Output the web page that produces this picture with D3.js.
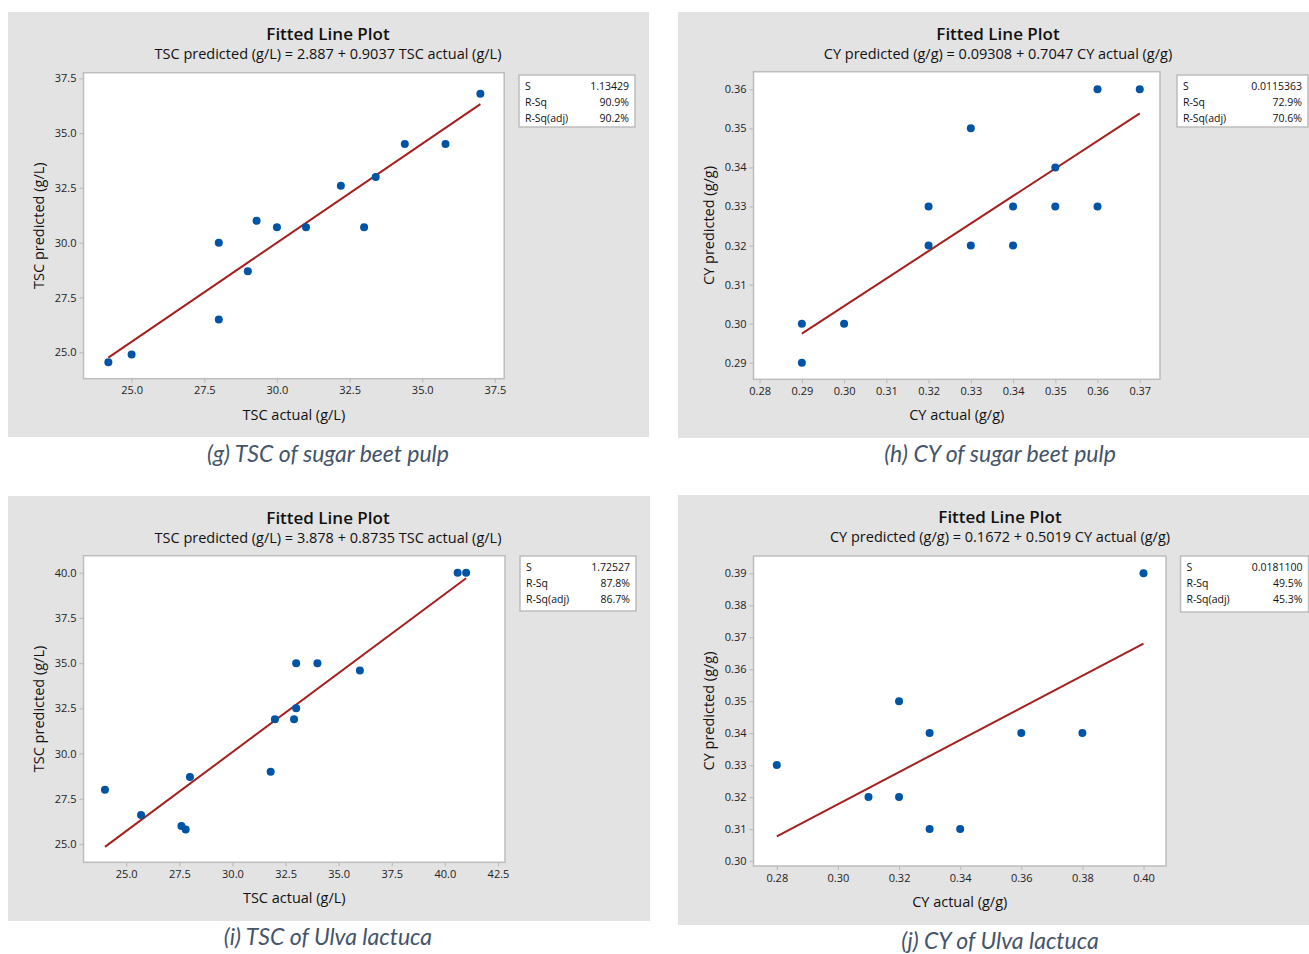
<!DOCTYPE html>
<html>
<head>
<meta charset="utf-8">
<script src="https://cdn.jsdelivr.net/npm/d3@7/dist/d3.min.js"></script>
<style>
  html, body { margin: 0; padding: 0; background: #ffffff; }
  svg { display: block; }
  text { font-family: "Open Sans", "Noto Sans", sans-serif; }
</style>
</head>
<body>
<svg id="chart" width="1309" height="954"></svg>
<script>
// ---------------- DATA ----------------
// (g) TSC of sugar beet pulp
const tscBeetActual = [24.2, 25.0, 28.0, 28.0, 29.0, 29.3, 30.0, 31.0, 32.2, 33.0, 33.4, 34.4, 35.8, 37.0];
const tscBeetPred   = [24.55, 24.9, 30.0, 26.5, 28.7, 31.0, 30.7, 30.7, 32.6, 30.7, 33.0, 34.5, 34.5, 36.8];
// (h) CY of sugar beet pulp
const cyBeetActual = [0.29, 0.29, 0.30, 0.32, 0.32, 0.33, 0.33, 0.34, 0.34, 0.35, 0.35, 0.36, 0.36, 0.37];
const cyBeetPred   = [0.30, 0.29, 0.30, 0.33, 0.32, 0.35, 0.32, 0.33, 0.32, 0.34, 0.33, 0.36, 0.33, 0.36];
// (i) TSC of Ulva lactuca
const tscUlvaActual = [24.0, 25.7, 27.6, 27.8, 28.0, 31.8, 32.0, 32.9, 33.0, 33.0, 34.0, 36.0, 40.6, 41.0];
const tscUlvaPred   = [28.0, 26.6, 26.0, 25.8, 28.7, 29.0, 31.9, 31.9, 32.5, 35.0, 35.0, 34.6, 40.0, 40.0];
// (j) CY of Ulva lactuca
const cyUlvaActual = [0.28, 0.31, 0.32, 0.32, 0.33, 0.33, 0.34, 0.36, 0.38, 0.40];
const cyUlvaPred   = [0.33, 0.32, 0.35, 0.32, 0.34, 0.31, 0.31, 0.34, 0.34, 0.39];

// Fitted line coefficients
const fitIntercepts = [2.887, 0.09308, 3.878, 0.1672];
const fitSlopes     = [0.9037, 0.7047, 0.8735, 0.5019];

// Summary statistics
const statLabels = ["S", "R-Sq", "R-Sq(adj)"];
const statS      = ["1.13429", "0.0115363", "1.72527", "0.0181100"];
const statRSq    = ["90.9%", "72.9%", "87.8%", "49.5%"];
const statRSqAdj = ["90.2%", "70.6%", "86.7%", "45.3%"];

// Tick values
const xTicksG = [25.0, 27.5, 30.0, 32.5, 35.0, 37.5];
const yTicksG = [25.0, 27.5, 30.0, 32.5, 35.0, 37.5];
const xTicksH = [0.28, 0.29, 0.30, 0.31, 0.32, 0.33, 0.34, 0.35, 0.36, 0.37];
const yTicksH = [0.29, 0.30, 0.31, 0.32, 0.33, 0.34, 0.35, 0.36];
const xTicksI = [25.0, 27.5, 30.0, 32.5, 35.0, 37.5, 40.0, 42.5];
const yTicksI = [25.0, 27.5, 30.0, 32.5, 35.0, 37.5, 40.0];
const xTicksJ = [0.28, 0.30, 0.32, 0.34, 0.36, 0.38, 0.40];
const yTicksJ = [0.30, 0.31, 0.32, 0.33, 0.34, 0.35, 0.36, 0.37, 0.38, 0.39];

// Texts
const plotTitle = "Fitted Line Plot";
const subtitles = [
  "TSC predicted (g/L) = 2.887 + 0.9037 TSC actual (g/L)",
  "CY predicted (g/g) = 0.09308 + 0.7047 CY actual (g/g)",
  "TSC predicted (g/L) = 3.878 + 0.8735 TSC actual (g/L)",
  "CY predicted (g/g) = 0.1672 + 0.5019 CY actual (g/g)"
];
const xLabels = ["TSC actual (g/L)", "CY actual (g/g)", "TSC actual (g/L)", "CY actual (g/g)"];
const yLabels = ["TSC predicted (g/L)", "CY predicted (g/g)", "TSC predicted (g/L)", "CY predicted (g/g)"];
const captions = ["(g) TSC of sugar beet pulp", "(h) CY of sugar beet pulp", "(i) TSC of Ulva lactuca", "(j) CY of Ulva lactuca"];

// ---------------- LAYOUT ----------------
const panels = [
  { xs: tscBeetActual, ys: tscBeetPred, xt: xTicksG, yt: yTicksG, fmt: ".1f",
    bg: [8, 12, 641, 425], plot: [83.5, 72.7, 420.7, 306], xd: [23.345, 37.82], yd: [23.796, 37.755],
    stats: [519, 75, 116, 52], titleX: 328, captionXY: [328, 462], yLabX: 44 },
  { xs: cyBeetActual, ys: cyBeetPred, xt: xTicksH, yt: yTicksH, fmt: ".2f",
    bg: [678, 12, 631, 426], plot: [753.5, 71.7, 406.5, 307.6], xd: [0.27855, 0.37479], yd: [0.28575, 0.3645],
    stats: [1177, 75, 131, 52], titleX: 998, captionXY: [1000, 462], yLabX: 714 },
  { xs: tscUlvaActual, ys: tscUlvaPred, xt: xTicksI, yt: yTicksI, fmt: ".1f",
    bg: [8, 496, 642, 425], plot: [83.5, 555.7, 421.5, 306.6], xd: [22.99, 42.83], yd: [23.99, 40.94],
    stats: [520, 556, 116, 55], titleX: 328, captionXY: [328, 945], yLabX: 44 },
  { xs: cyUlvaActual, ys: cyUlvaPred, xt: xTicksJ, yt: yTicksJ, fmt: ".2f",
    bg: [678, 495, 631, 430], plot: [753.5, 556, 412.5, 310], xd: [0.27237, 0.40736], yd: [0.29844, 0.3954],
    stats: [1180.5, 556, 128, 56], titleX: 1000, captionXY: [1000, 949], yLabX: 714 }
];

const svg = d3.select("#chart");
const frameColor = "#bdbdbd";

panels.forEach((p, i) => {
  const g = svg.append("g");
  const [bx, by, bw, bh] = p.bg;
  const [px, py, pw, ph] = p.plot;

  g.append("rect").attr("x", bx).attr("y", by).attr("width", bw).attr("height", bh)
    .attr("fill", "#e3e3e3");

  // Titles
  g.append("text").attr("x", p.titleX).attr("y", by + 28).attr("text-anchor", "middle")
    .attr("font-size", 17).attr("font-weight", 600).attr("fill", "#111").text(plotTitle);
  g.append("text").attr("x", p.titleX).attr("y", by + 47).attr("text-anchor", "middle")
    .attr("font-size", 14.5).attr("fill", "#111").text(subtitles[i]);

  const x = d3.scaleLinear().domain(p.xd).range([px, px + pw]);
  const y = d3.scaleLinear().domain(p.yd).range([py + ph, py]);

  // plot area
  g.append("rect").attr("x", px).attr("y", py).attr("width", pw).attr("height", ph)
    .attr("fill", "#ffffff").attr("stroke", frameColor).attr("stroke-width", 1.5);

  // axes
  const xAxis = g.append("g").attr("transform", `translate(0,${py + ph})`)
    .call(d3.axisBottom(x).tickValues(p.xt).tickFormat(d3.format(p.fmt)).tickSize(4).tickSizeOuter(0).tickPadding(4));
  const yAxis = g.append("g").attr("transform", `translate(${px},0)`)
    .call(d3.axisLeft(y).tickValues(p.yt).tickFormat(d3.format(p.fmt)).tickSize(4).tickSizeOuter(0).tickPadding(3));
  [xAxis, yAxis].forEach(a => {
    a.select(".domain").remove();
    a.selectAll(".tick line").attr("stroke", frameColor).attr("stroke-width", 1.2);
    a.selectAll(".tick text").attr("font-size", 11).attr("fill", "#222")
      .attr("font-family", "\"Open Sans\", sans-serif");
  });

  // axis labels
  g.append("text").attr("x", px + pw / 2).attr("y", py + ph + 41).attr("text-anchor", "middle")
    .attr("font-size", 14.5).attr("fill", "#111").text(xLabels[i]);
  g.append("text").attr("transform", `translate(${p.yLabX},${py + ph / 2}) rotate(-90)`)
    .attr("text-anchor", "middle").attr("font-size", 14.5).attr("fill", "#111").text(yLabels[i]);

  // fitted line
  const xmin = d3.min(p.xs), xmax = d3.max(p.xs);
  const fit = v => fitIntercepts[i] + fitSlopes[i] * v;
  g.append("line").attr("x1", x(xmin)).attr("y1", y(fit(xmin))).attr("x2", x(xmax)).attr("y2", y(fit(xmax)))
    .attr("stroke", "#a3201e").attr("stroke-width", 2);

  // points
  g.selectAll("circle.pt").data(p.xs.map((v, k) => [v, p.ys[k]])).join("circle")
    .attr("class", "pt").attr("cx", d => x(d[0])).attr("cy", d => y(d[1])).attr("r", 4)
    .attr("fill", "#0054a6");

  // stats box
  const [sx, sy, sw, sh] = p.stats;
  g.append("rect").attr("x", sx).attr("y", sy).attr("width", sw).attr("height", sh)
    .attr("fill", "#ffffff").attr("stroke", frameColor).attr("stroke-width", 1.5);
  const vals = [statS[i], statRSq[i], statRSqAdj[i]];
  statLabels.forEach((lab, k) => {
    g.append("text").attr("x", sx + 6).attr("y", sy + 14.5 + k * 16).attr("font-size", 10.5)
      .attr("fill", "#111").text(lab);
    g.append("text").attr("x", sx + sw - 6).attr("y", sy + 14.5 + k * 16).attr("font-size", 10.5)
      .attr("text-anchor", "end").attr("fill", "#111").text(vals[k]);
  });

  // caption
  g.append("text").attr("x", p.captionXY[0]).attr("y", p.captionXY[1]).attr("text-anchor", "middle")
    .attr("font-size", 23).attr("font-style", "italic").attr("fill", "#44546a")
    .style("font-family", "Lato, \"Open Sans\", sans-serif").text(captions[i]);
});
</script>
</body>
</html>
